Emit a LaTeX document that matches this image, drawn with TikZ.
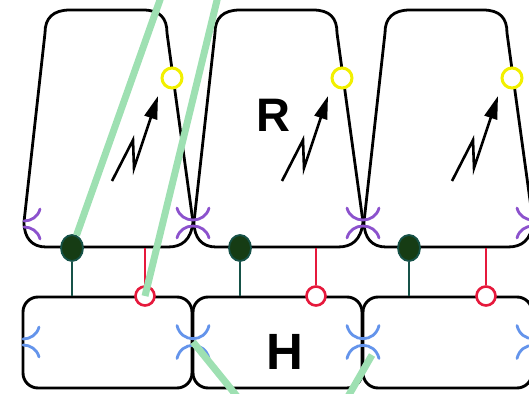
\documentclass[tikz,border=0pt]{standalone}
\usepackage{fontspec}
\setsansfont{Liberation Sans}
\usetikzlibrary{arrows.meta,shapes.geometric}

\definecolor{cellpurple}{RGB}{140,82,205}
\definecolor{cellblue}{RGB}{100,148,235}
\definecolor{linkgreen}{RGB}{158,224,178}
\definecolor{dotfill}{RGB}{22,60,20}
\definecolor{dotedge}{RGB}{22,82,72}
\definecolor{ringred}{RGB}{230,25,60}
\definecolor{lampyellow}{RGB}{242,240,0}

% pair of facing arcs where two cells meet
\tikzset{
  kiss/.pic={
    \draw[pic actions] (-16,-15) .. controls (-12,1) and (12,1) .. (16,-15);
    \draw[pic actions] (-16,15) .. controls (-12,-1) and (12,-1) .. (16,15);
  },
  halfkiss/.pic={
    \draw[pic actions] (0,-3) .. controls (7,-3) and (14,-7) .. (16,-15);
    \draw[pic actions] (0,3) .. controls (7,3) and (14,7) .. (16,15);
  }
}

\begin{document}
\begin{tikzpicture}[
  x=1pt, y=-1pt,
  rcell/.style={draw, line width=2.8pt, line join=round},
  hcell/.style={draw, rectangle, rounded corners=15pt, line width=2.9pt, minimum width=169pt, minimum height=91pt, inner sep=0pt},
  bolt/.style={line width=2.6pt, line join=miter, -{Triangle[length=23pt,width=13pt]}},
  lamp/.style={circle, draw=lampyellow, fill=white, line width=3pt, minimum size=20pt, inner sep=0pt},
  dot/.style={ellipse, draw=dotedge, fill=dotfill, line width=1.8pt, minimum width=22pt, minimum height=26pt, inner sep=0pt},
  ring/.style={circle, draw=ringred, fill=white, line width=2.6pt, minimum size=19pt, inner sep=0pt},
  stalk/.style={draw=dotedge, line width=2.4pt},
  redstalk/.style={draw=ringred, line width=2.4pt},
  purplearc/.style={draw=cellpurple, line width=2.8pt, line cap=round},
  bluearc/.style={draw=cellblue, line width=2.8pt, line cap=round},
  link/.style={draw=linkgreen, line width=7pt},
  big/.style={font=\sffamily\bfseries\fontsize{47}{47}\selectfont, inner sep=0pt}
]
\useasboundingbox (0,0) rectangle (529,393);
\clip (0,0) rectangle (529,393);

% upper and lower cells
\foreach \i/\s in {1/0, 2/170, 3/340} {
  \begin{scope}[xshift=\s pt]
    \draw[rcell] (70,10) -- (143,10) .. controls (160,10) and (167,18) .. (167,33)
      -- (193,222) .. controls (191,240) and (182,247) .. (168,247)
      -- (46,247) .. controls (32,247) and (24,238) .. (24,222)
      -- (45,33) .. controls (45,18) and (53,10) .. (70,10) -- cycle;
    \draw[bolt] (112,181) -- (133,140) -- (134,168) -- (158,96);
    \node[lamp] (lamp\i) at (172,78) {};
    \node[hcell] (h\i) at (107.5,342.5) {};
  \end{scope}
}

% junctions
\pic[purplearc] at (24,224) {halfkiss};
\pic[bluearc] at (23,342) {halfkiss};
\foreach \i/\jx in {1/193, 2/363, 3/533} {
  \pic[purplearc] at (\jx,223) {kiss};
  \pic[bluearc, yscale=1.1] at (\jx,342) {kiss};
  \coordinate (hj\i) at (\jx,342);
}

% contacts between the rows
\foreach \i/\gx/\rx in {1/72/145, 2/240/316, 3/409/486} {
  \node[dot] (dot\i) at (\gx,248) {};
  \draw[stalk] (dot\i) -- (dot\i |- h\i.north);
  \node[ring] (ring\i) at (\rx,296) {};
  \draw[redstalk] (ring\i) -- (ring\i |- dot\i.center);
}

\node[big] (rlabel) at (273,115) {R};
\node[big, font=\sffamily\bfseries\fontsize{51}{51}\selectfont] (hlabel) at (285,352) {H};

% crossing fibres
\coordinate (top1) at (163.5,-10);
\coordinate (top2) at (219.5,-10);
\coordinate (tail4) at (372,355);
\coordinate (end3) at (240,400);
\coordinate (end4) at (346,400);
\draw[link] (top1) -- (dot1);
\draw[link] (top2) -- (ring1.center);
\draw[link] (hj1) -- (end3);
\draw[link] (tail4) -- (end4);

\end{tikzpicture}
\end{document}
